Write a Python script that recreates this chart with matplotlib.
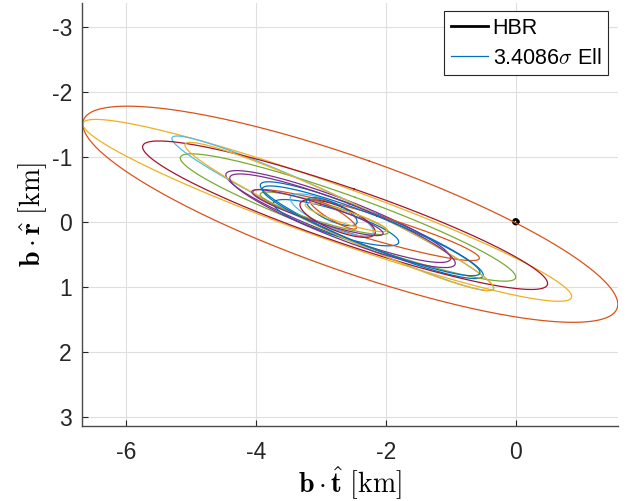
import numpy as np
import matplotlib
matplotlib.use('Agg')
import matplotlib.pyplot as plt

plt.rcParams['font.family'] = ['Liberation Sans', 'DejaVu Sans']
plt.rcParams['mathtext.fontset'] = 'cm'
plt.rcParams['axes.unicode_minus'] = False

# matlab default colour order
colors = ['#0072BD', '#D95319', '#EDB120', '#7E2F8E', '#77AC30', '#4DBEEE', '#A2142F']

# ellipses: left tip, right tip (km) and vertical half chord through the centre
ell_color = [0, 1, 2, 3, 4, 5, 6, 0, 1, 2, 3, 4, 5, 6, 0, 1, 2, 3, 0]
left_x = [-3.93, -6.66, -6.66, -4.46, -5.16, -5.29, -5.74, -3.73, -4.04, -5.09, -4.40, -3.93, -3.47, -3.32, -3.22, -3.17, -3.24, -4.06, -3.90]
left_y = [-0.56, -1.50, -1.50, -0.72, -0.98, -1.28, -1.15, -0.28, -0.46, -1.18, -0.67, -0.42, -0.36, -0.26, -0.31, -0.32, -0.26, -0.46, -0.50]
right_x = [-0.50, 1.57, 0.86, -1.00, 0.00, -0.34, 0.49, -1.80, -0.56, -0.34, -0.93, -1.96, -2.19, -2.16, -2.44, -2.45, -1.98, -2.04, -0.55]
right_y = [0.82, 1.27, 1.15, 0.56, 0.85, 1.02, 0.95, 0.31, 0.56, 1.02, 0.64, 0.16, 0.15, 0.16, 0.00, 0.09, 0.13, 0.18, 0.78]
half_chord = [0.28, 0.92, 0.45, 0.30, 0.35, 0.30, 0.45, 0.20, 0.20, 0.30, 0.30, 0.15, 0.20, 0.20, 0.15, 0.10, 0.10, 0.15, 0.26]

hbr_radius = 0.035
sigma = 3.4086


def ellipsePoints(xl, yl, xr, yr, h, n=400):
    cx = (xl + xr) / 2
    cy = (yl + yr) / 2
    wx = (xr - xl) / 2
    m = (yr - yl) / (xr - xl)
    cov = np.array([[wx ** 2, m * wx ** 2], [m * wx ** 2, h ** 2 + m ** 2 * wx ** 2]])
    vals, vecs = np.linalg.eigh(cov)
    t = np.linspace(0, 2 * np.pi, n)
    circ = np.vstack([np.cos(t), np.sin(t)])
    pts = vecs @ (np.sqrt(vals)[:, None] * circ)
    return cx + pts[0], cy + pts[1]


fig = plt.figure(figsize=(6.3, 5.01), dpi=100)
ax = fig.add_axes([81.7 / 630, 1 - 425.7 / 501, 536.1 / 630, 422.7 / 501])

t = np.linspace(0, 2 * np.pi, 100)
ax.plot(hbr_radius * np.cos(t), hbr_radius * np.sin(t), color='k', lw=2.0, label='HBR')

for i in range(len(ell_color)):
    x, y = ellipsePoints(left_x[i], left_y[i], right_x[i], right_y[i], half_chord[i])
    lab = r'%.4f$\sigma$ Ell' % sigma if i == 0 else None
    ax.plot(x, y, color=colors[ell_color[i]], lw=0.9, label=lab)

ax.set_xlim(-6.677, 1.57)
ax.set_ylim(3.138, -3.365)
ax.set_xticks([-6, -4, -2, 0])
ax.set_yticks([-3, -2, -1, 0, 1, 2, 3])
ax.grid(True, color='#dfdfdf', lw=0.8)
ax.set_axisbelow(True)
for s in ['top', 'right']:
    ax.spines[s].set_visible(False)
for s in ['left', 'bottom']:
    ax.spines[s].set_color('#4a4a4a')
    ax.spines[s].set_linewidth(1.0)
ax.tick_params(direction='in', length=4, width=0.8, colors='#262626', labelsize=16.5)
ax.tick_params(axis='x', pad=11)
ax.tick_params(axis='y', pad=7)

ax.set_xlabel(r'$\mathbf{b}\cdot\hat{\mathbf{t}}\ [\mathrm{km}]$', fontsize=20, labelpad=0)
ax.set_ylabel(r'$\mathbf{b}\cdot\hat{\mathbf{r}}\ [\mathrm{km}]$', fontsize=20, labelpad=2)

leg = ax.legend(loc='upper right', bbox_to_anchor=(0.981, 0.980), fontsize=15.5, fancybox=False,
                edgecolor='#262626', framealpha=1, handlelength=1.75, handletextpad=0.2,
                borderpad=0.3, labelspacing=0.42, borderaxespad=0)
leg.get_frame().set_linewidth(0.8)

fig.savefig('out.png', dpi=100)
